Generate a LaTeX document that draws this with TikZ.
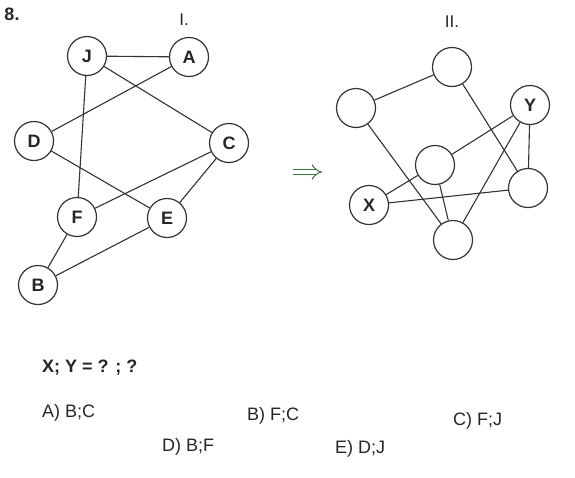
\documentclass[tikz,border=0pt]{standalone}
\usepackage{fontspec}
\setmainfont{Liberation Sans}
\usetikzlibrary{arrows.meta}
\definecolor{arrgreen}{RGB}{60,120,70}
\begin{document}
\begin{tikzpicture}[x=1pt,y=-1pt,
  vtx/.style={draw=black!80,line width=1.2pt,circle,minimum size=39pt,inner sep=0pt,font=\fontsize{18}{18}\selectfont\bfseries,text=black!85},
  edge/.style={draw=black!80,line width=1.1pt},
  lbl/.style={font=\fontsize{17}{17}\selectfont,text=black!85,inner sep=0pt},
  opt/.style={font=\fontsize{18}{18}\selectfont,text=black!85,inner sep=0pt,anchor=west}]
\useasboundingbox[fill=white] (0,0) rectangle (575,477);
% Graph I
\node[vtx] (J) at (87,56) {J};
\node[vtx] (A) at (189,57) {A};
\node[vtx] (D) at (34,141) {D};
\node[vtx] (C) at (229,143) {C};
\node[vtx] (F) at (77,217) {F};
\node[vtx] (E) at (167,218) {E};
\node[vtx] (B) at (38,285) {B};
\draw[edge] (J) -- (A);
\draw[edge] (J) -- (F);
\draw[edge] (J) -- (C);
\draw[edge] (A) -- (D);
\draw[edge] (D) -- (E);
\draw[edge] (C) -- (F);
\draw[edge] (C) -- (E);
\draw[edge] (F) -- (B);
\draw[edge] (E) -- (B);
\node[font=\fontsize{18}{18}\selectfont\bfseries,text=black!85,inner sep=0pt] (n8) at (12,14) {8.};
\node[lbl] (t1) at (184,20) {I.};
% arrow
\coordinate (a1) at (293,172);
\coordinate (a2) at (322,172);
\draw[arrgreen, line width=1pt, double=white, double distance=4.5pt, -{Implies}] (a1) -- (a2);
% Graph II
\node[lbl] (t2) at (452,22) {II.};
\node[vtx] (T) at (452,67) {};
\node[vtx] (L) at (356,108) {};
\node[vtx] (Y) at (530,105) {Y};
\node[vtx] (M) at (435,165) {};
\node[vtx] (R) at (528,188) {};
\node[vtx] (X) at (369,205) {X};
\node[vtx] (Bo) at (453,240) {};
\draw[edge] (T) -- (L);
\draw[edge] (T) -- (R);
\draw[edge] (L) -- (Bo);
\draw[edge] (Y) -- (M);
\draw[edge] (Y) -- (R);
\draw[edge] (Y) -- (Bo);
\draw[edge] (M) -- (X);
\draw[edge] (M) -- (Bo);
\draw[edge] (X) -- (R);
% Question
\node[opt,font=\fontsize{18}{18}\selectfont\bfseries] (q) at (42,368) {X; Y = ? ; ?};
\node[opt] (oA) at (42,413) {A) B;C};
\node[opt] (oB) at (247,416) {B) F;C};
\node[opt] (oC) at (453,421) {C) F;J};
\node[opt] (oD) at (162,447) {D) B;F};
\node[opt] (oE) at (335,449) {E) D;J};
\end{tikzpicture}
\end{document}
